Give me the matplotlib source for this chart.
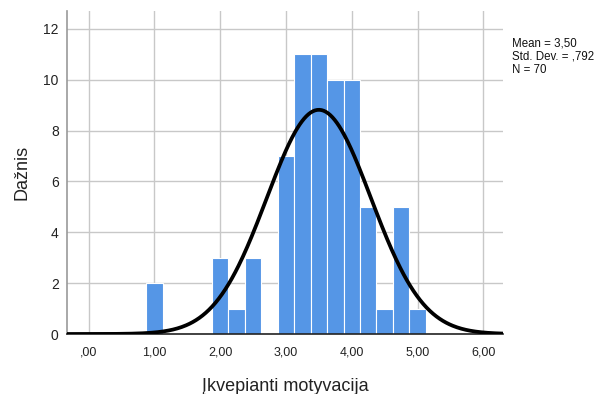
import numpy as np
import matplotlib
matplotlib.use("Agg")
import matplotlib.pyplot as plt

plt.rcParams['font.family'] = ['Liberation Sans', 'DejaVu Sans']

bin_centers = [1.00, 2.00, 2.25, 2.50, 2.75, 3.00, 3.25, 3.50, 3.75, 4.00, 4.25, 4.50, 4.75, 5.00]
counts = [2, 3, 1, 3, 0, 7, 11, 11, 10, 10, 5, 1, 5, 1]
bin_width = 0.25
mean, std, n = 3.50, 0.792, 70
xticks = [0, 1, 2, 3, 4, 5, 6]
xticklabels = [',00', '1,00', '2,00', '3,00', '4,00', '5,00', '6,00']
yticks = [0, 2, 4, 6, 8, 10, 12]

W, H = 605, 394
fig = plt.figure(figsize=(W/100, H/100), dpi=100)
ax = fig.add_axes([67/W, 1-334/H, (503-67)/W, (334-11)/H])

ax.bar(bin_centers, counts, width=bin_width, color='#5596E6', edgecolor='white',
       linewidth=0.8, zorder=2)

xs = np.linspace(-0.33, 6.3, 400)
ys = n * bin_width / (std * np.sqrt(2*np.pi)) * np.exp(-0.5*((xs-mean)/std)**2)
ax.plot(xs, ys, color='black', lw=2.7, zorder=3, solid_capstyle='butt')

ax.set_xlim(-0.33, 6.3)
ax.set_ylim(0, 12.7)
ax.set_xticks(xticks)
ax.set_xticklabels(xticklabels, fontsize=9)
ax.set_yticks(yticks)
ax.set_yticklabels([str(v) for v in yticks], fontsize=10)
ax.tick_params(axis='x', length=0, pad=9, colors='#222222')
ax.tick_params(axis='y', length=0, pad=6, colors='#222222')
ax.grid(True, color='#c8c8c8', lw=1.0, zorder=0)
ax.set_axisbelow(True)
for s in ['top', 'right']:
    ax.spines[s].set_visible(False)
ax.spines['left'].set_color('#999999')
ax.spines['left'].set_linewidth(1.2)
ax.spines['bottom'].set_color('#222222')
ax.spines['bottom'].set_linewidth(1.2)

ax.set_xlabel('Įkvepianti motyvacija', fontsize=13, labelpad=14, color='#222222')
ax.set_ylabel('Dažnis', fontsize=13, labelpad=9, color='#222222')

fig.text(512/W, 1-37/H, 'Mean = 3,50\nStd. Dev. = ,792\nN = 70', fontsize=8.3,
         va='top', ha='left', linespacing=1.15, color='#111111')

fig.savefig('out.png', dpi=100)
